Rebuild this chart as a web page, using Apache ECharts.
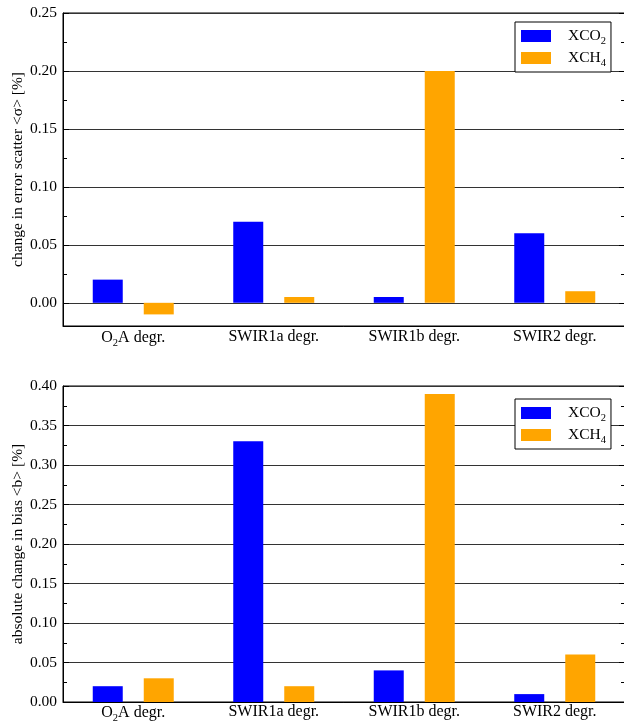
<!DOCTYPE html>
<html>
<head>
<meta charset="utf-8">
<script src="https://cdn.jsdelivr.net/npm/echarts@6/dist/echarts.min.js"></script>
<style>html,body{margin:0;padding:0;background:#fff;}#c{width:624px;height:723px;}</style>
</head>
<body>
<div id="c"></div>
<script>
const categories = ['O2A degr.', 'SWIR1a degr.', 'SWIR1b degr.', 'SWIR2 degr.'];
const seriesNames = ['XCO2', 'XCH4'];
const scatterCO2 = [0.02, 0.07, 0.005, 0.06];
const scatterCH4 = [-0.01, 0.005, 0.20, 0.01];
const biasCO2 = [0.02, 0.33, 0.04, 0.01];
const biasCH4 = [0.03, 0.02, 0.39, 0.06];
const topMajorTicks = [0.00, 0.05, 0.10, 0.15, 0.20, 0.25];
const topMinorTicks = [0.025, 0.075, 0.125, 0.175, 0.225];
const botMajorTicks = [0.00, 0.05, 0.10, 0.15, 0.20, 0.25, 0.30, 0.35, 0.40];
const botMinorTicks = [0.025, 0.075, 0.125, 0.175, 0.225, 0.275, 0.325, 0.375];
const topRange = [-0.02, 0.25];
const botRange = [0.00, 0.40];
const yNames = ['change in error scatter <σ> [%]', 'absolute change in bias <b> [%]'];

const FONT = 'Liberation Serif';
const BLUE = '#0000ff', ORANGE = '#ffa500';
const subRich = {
  n: {fontFamily: FONT, fontSize: 16, color: '#000', lineHeight: 18},
  s: {fontFamily: FONT, fontSize: 10.5, color: '#000', verticalAlign: 'top', lineHeight: 11, padding: [9, 0, 0, 0]}
};
function subFmt(v) {
  return v.replace(/^(.*?)(\d)(A degr\.)$/, '{n|$1}{s|$2}{n|$3}').replace(/^(XC[OH])(\d)$/, '{n|$1}{s|$2}');
}

const grids = [
  {left: 63, top: 13, width: 562, height: 313},
  {left: 63, top: 386, width: 562, height: 316}
];
const panels = [
  {range: topRange, major: topMajorTicks, minor: topMinorTicks, data: [scatterCO2, scatterCH4], split: 5},
  {range: botRange, major: botMajorTicks, minor: botMinorTicks, data: [biasCO2, biasCH4], split: 8}
];

const xAxis = [], yAxis = [], series = [], legend = [];
panels.forEach((p, i) => {
  xAxis.push({
    type: 'category', gridIndex: i, data: categories, position: 'bottom',
    axisLine: {onZero: false, lineStyle: {color: '#000', width: 1}},
    axisTick: {inside: true, length: 3, alignWithLabel: false, lineStyle: {color: '#000'}},
    axisLabel: {interval: 0, margin: i === 0 ? 3 : 2, fontFamily: FONT, fontSize: 16, color: '#000', formatter: subFmt, rich: subRich},
    splitLine: {show: false}
  });
  xAxis.push({
    type: 'category', gridIndex: i, data: categories, position: 'bottom',
    axisLine: {show: false, onZero: false},
    axisTick: {inside: true, length: 3, interval: 0, alignWithLabel: true, lineStyle: {color: '#000'}},
    axisLabel: {show: false}, splitLine: {show: false}
  });
  const base = {type: 'value', gridIndex: i, min: p.range[0], max: p.range[1], splitNumber: p.split};
  yAxis.push(Object.assign({}, base, {
    position: 'left', name: yNames[i], nameLocation: 'middle', nameGap: 37, nameMoveOverlap: false,
    nameTextStyle: {fontFamily: FONT, fontSize: 15.5, color: '#000'},
    axisLine: {show: true, onZero: false, lineStyle: {color: '#000'}},
    axisTick: {show: true, inside: true, length: 6, customValues: p.major, lineStyle: {color: '#000'}},
    axisLabel: {customValues: p.major, margin: 6, fontFamily: FONT, fontSize: 15.5, color: '#000', formatter: v => v.toFixed(2)},
    splitLine: {show: true, lineStyle: {color: '#333', width: 1}}
  }));
  yAxis.push(Object.assign({}, base, {
    position: 'left', axisLine: {show: false},
    axisTick: {show: true, inside: true, length: 4, customValues: p.minor, lineStyle: {color: '#000'}},
    axisLabel: {show: false}, splitLine: {show: false}
  }));
  yAxis.push(Object.assign({}, base, {
    position: 'right', axisLine: {show: true, onZero: false, lineStyle: {color: '#000'}},
    axisTick: {show: true, inside: true, length: 6, customValues: p.major, lineStyle: {color: '#000'}},
    axisLabel: {show: false}, splitLine: {show: false}
  }));
  yAxis.push(Object.assign({}, base, {
    position: 'right', axisLine: {show: false},
    axisTick: {show: true, inside: true, length: 4, customValues: p.minor, lineStyle: {color: '#000'}},
    axisLabel: {show: false}, splitLine: {show: false}
  }));
  seriesNames.forEach((name, k) => {
    series.push({
      type: 'bar', name: name, xAxisIndex: i * 2, yAxisIndex: i * 4,
      data: p.data[k], barWidth: 30, barGap: '70%',
      itemStyle: {color: k === 0 ? BLUE : ORANGE}, z: 3
    });
  });
  legend.push({
    data: seriesNames, orient: 'vertical', left: 515, top: i === 0 ? 22 : 399,
    itemWidth: 30, itemHeight: 12, itemGap: 2,
    padding: [5, 5, 3, 6], borderColor: '#000', borderWidth: 1, backgroundColor: '#fff',
    icon: 'rect', selectedMode: false,
    formatter: n => subFmt(n),
    textStyle: {fontFamily: FONT, fontSize: 15, color: '#000', rich: {
      n: {fontFamily: FONT, fontSize: 15.5, color: '#000', lineHeight: 18, padding: [0, 0, 0, 12]},
      s: {fontFamily: FONT, fontSize: 10.5, color: '#000', verticalAlign: 'top', lineHeight: 11, padding: [9, 0, 0, 0]}
    }}
  });
});

const chart = echarts.init(document.getElementById('c'), null, {renderer: 'canvas'});
chart.setOption({
  animation: false,
  backgroundColor: '#fff',
  grid: grids.map(g => Object.assign({show: true, borderColor: '#000', borderWidth: 1, backgroundColor: 'transparent', containLabel: false, outerBoundsMode: 'none'}, g)),
  legend: legend,
  xAxis: xAxis,
  yAxis: yAxis,
  series: series
});
</script>
</body>
</html>
